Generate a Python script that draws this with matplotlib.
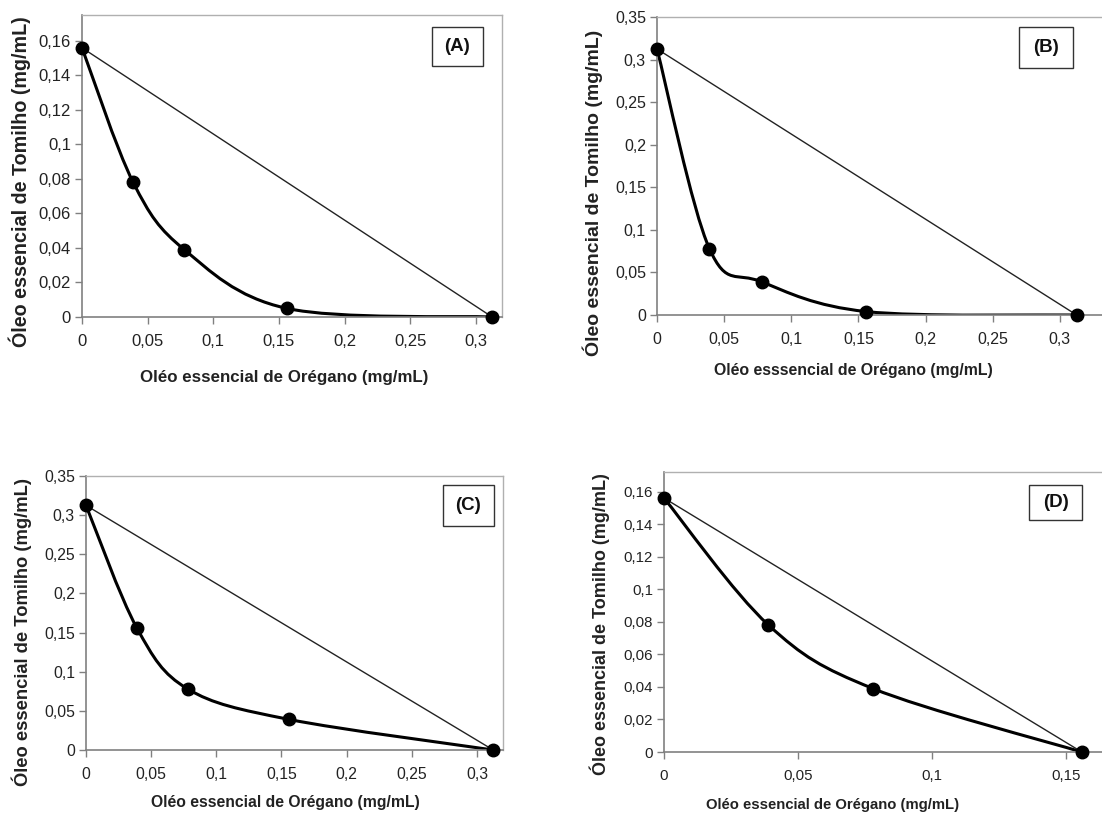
import matplotlib
matplotlib.use('Agg')
import matplotlib.pyplot as plt
from matplotlib.path import Path
from matplotlib.patches import PathPatch, Rectangle
from matplotlib.ticker import FuncFormatter
import numpy as np

plt.rcParams['font.family'] = ['Liberation Sans', 'DejaVu Sans']

# dados (mg/mL)
xA = [0, 0.039, 0.078, 0.156, 0.3125]
yA = [0.156, 0.078, 0.039, 0.005, 0]
xB = [0, 0.039, 0.078, 0.156, 0.3125]
yB = [0.3125, 0.078, 0.039, 0.004, 0]
xC = [0, 0.039, 0.078, 0.156, 0.3125]
yC = [0.3125, 0.156, 0.078, 0.039, 0]
xD = [0, 0.039, 0.078, 0.156]
yD = [0.156, 0.078, 0.039, 0]

xlab = 'Oléo essencial de Orégano (mg/mL)'
xlabB = 'Oléo esssencial de Orégano (mg/mL)'
ylab = 'Óleo essencial de Tomilho (mg/mL)'

W, H = 1102, 814
fig = plt.figure(figsize=(W / 100, H / 100), dpi=100)


def px_axes(l, t, w, h):
    return fig.add_axes([l / W, 1 - (t + h) / H, w / W, h / H])


def fmt(v, pos):
    return ('%g' % round(v, 4)).replace('.', ',')


def smooth_path(x, y):
    # curva suavizada estilo Excel (bezier tipo Catmull-Rom)
    p = np.column_stack([x, y]).astype(float)
    n = len(p)
    verts = [p[0]]
    codes = [Path.MOVETO]
    for i in range(n - 1):
        p0 = p[i - 1] if i > 0 else p[i]
        p3 = p[i + 2] if i + 2 < n else p[i + 1]
        c1 = p[i] + (p[i + 1] - p0) / 6
        c2 = p[i + 1] - (p3 - p[i]) / 6
        verts += [c1, c2, p[i + 1]]
        codes += [Path.CURVE4] * 3
    return Path(verts, codes)


def panel(ax, x, y, xmax, ymax, xticks, yticks, xl, yl, xlc, ylc, tks, xls, yls):
    ax.set_xlim(0, xmax)
    ax.set_ylim(0, ymax)
    ax.plot([x[0], x[-1]], [y[0], y[-1]], color='#222222', lw=1.0)
    ax.add_patch(PathPatch(smooth_path(x, y), fill=False, color='black', lw=2.2))
    ax.plot(x, y, 'o', color='black', ms=9, clip_on=False, zorder=5)
    ax.set_xticks(xticks)
    ax.set_yticks(yticks)
    ax.xaxis.set_major_formatter(FuncFormatter(fmt))
    ax.yaxis.set_major_formatter(FuncFormatter(fmt))
    for s in ['top', 'right']:
        ax.spines[s].set_color('#b0b0b0')
        ax.spines[s].set_linewidth(1.0)
    for s in ['bottom', 'left']:
        ax.spines[s].set_color('#808080')
        ax.spines[s].set_linewidth(1.2)
    ax.tick_params(direction='out', length=5, width=1, color='#808080',
                   labelsize=tks, labelcolor='#222222')
    ax.tick_params(axis='y', pad=3)
    ax.tick_params(axis='x', pad=7)
    ax.set_xlabel(xl, fontsize=xls, fontweight='bold', color='#222222', va='center')
    ax.set_ylabel(yl, fontsize=yls, fontweight='bold', color='#222222', va='center')
    ax.xaxis.set_label_coords(*xlc)
    ax.yaxis.set_label_coords(*ylc)


def tagbox(l, t, w, h, tag):
    fig.add_artist(Rectangle((l / W, 1 - (t + h) / H), w / W, h / H,
                             transform=fig.transFigure, fill=True, facecolor='white',
                             edgecolor='#333333', lw=1.0, zorder=10))
    fig.text((l + w / 2) / W, 1 - (t + h / 2) / H, tag, ha='center', va='center',
             fontsize=13.5, fontweight='bold', color='#111111', zorder=11)


axA = px_axes(82, 15, 420, 302)
panel(axA, xA, yA, 0.32, 0.175, np.arange(0, 0.31, 0.05), np.arange(0, 0.161, 0.02),
      xlab, ylab, (0.481, -0.199), (-0.148, 0.447), 12, 12.2, 14.2)
tagbox(432, 27, 51, 39, '(A)')

axB = px_axes(657, 17, 470, 298)
panel(axB, xB, yB, 0.35, 0.35, np.arange(0, 0.31, 0.05), np.arange(0, 0.351, 0.05),
      xlabB, ylab, (0.417, -0.185), (-0.136, 0.409), 11.5, 11.4, 14)
tagbox(1019, 27, 54, 41, '(B)')

axC = px_axes(86, 476, 417, 274)
panel(axC, xC, yC, 0.32, 0.35, np.arange(0, 0.31, 0.05), np.arange(0, 0.351, 0.05),
      xlab, ylab, (0.477, -0.193), (-0.153, 0.431), 11.3, 11.3, 13.2)
tagbox(443, 485, 51, 41, '(C)')

axD = px_axes(664, 472, 482, 280)
panel(axD, xD, yD, 0.18, 0.172, [0, 0.05, 0.1, 0.15], np.arange(0, 0.161, 0.02),
      xlab, ylab, (0.35, -0.189), (-0.133, 0.457), 10.8, 10.7, 13)
tagbox(1029, 485, 53, 35, '(D)')

fig.savefig('out.png', dpi=100)
